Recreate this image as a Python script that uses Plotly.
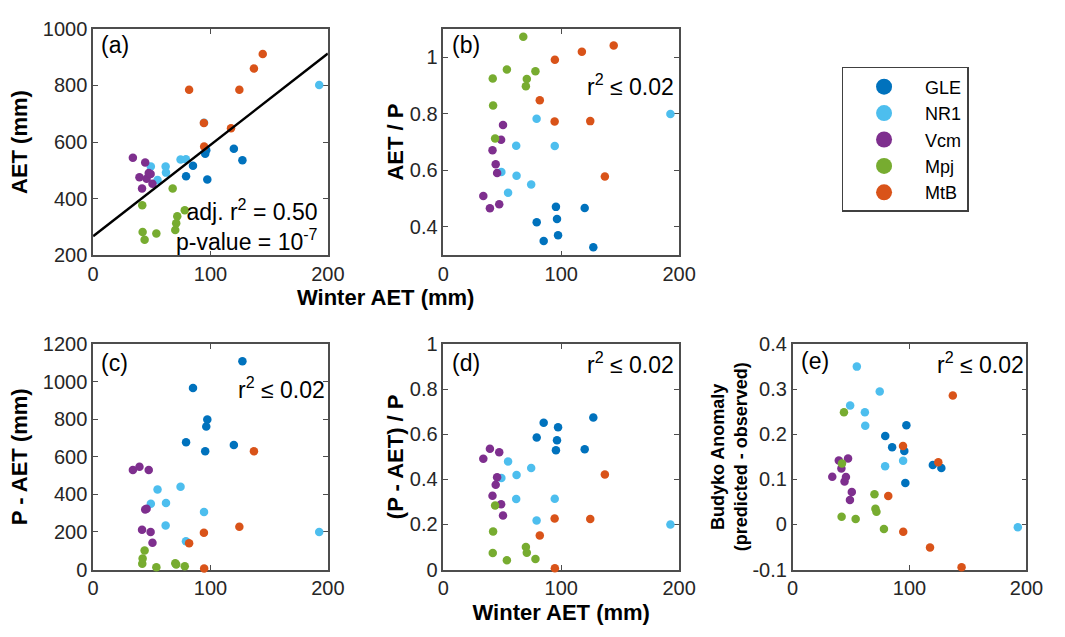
import numpy as np
import plotly.graph_objects as go

# ---------------- data ----------------
sites = ["GLE", "NR1", "Vcm", "Mpj", "MtB"]
site_colors = ["#0072BD", "#4DBEEE", "#7E2F8E", "#77AC30", "#D95319"]

site = (["GLE"] * 7 + ["NR1"] * 8 + ["Vcm"] * 8 + ["Mpj"] * 9 + ["MtB"] * 7)

winter_aet = [79.2, 85.1, 95.5, 96.4, 97.3, 119.9, 127.2,
              49.2, 54.9, 61.8, 62.1, 74.5, 79.1, 94.5, 192.6,
              33.9, 39.5, 41.7, 44.4, 45.6, 47.4, 49.0, 50.6,
              41.9, 42.2, 43.9, 53.9, 67.8, 70.0, 70.8, 71.7, 78.1,
              81.8, 94.4, 94.6, 117.5, 124.6, 137.0, 144.5]

aet = [479, 516, 559, 571, 468, 576, 536,
       514, 466, 514, 492, 538, 539, 668, 802,
       545, 476, 436, 528, 470, 491, 487, 453,
       377, 282, 255, 277, 436, 289, 313, 338, 359,
       785, 667, 584, 649, 785, 860, 911]

# None = point lies outside the plotted range in the reference
aet_over_p = [0.417, 0.350, 0.471, 0.428, 0.371, 0.467, 0.328,
              0.594, 0.521, 0.687, 0.581, 0.550, 0.782, 0.686, 0.799,
              0.509, 0.466, 0.671, 0.622, 0.591, 0.480, 0.708, 0.760,
              0.925, 0.829, 0.713, 0.956, 1.072, 0.897, 0.923, None, 0.950,
              0.848, 0.773, 0.991, 1.019, 0.774, 0.578, 1.041]

p_minus_aet = [677, 966, 629, 761, 798, 663, 1108,
               350, 426, 234, 354, 441, 150, 306, 200,
               530, 547, 212, 320, 323, 530, 200, 142,
               31, 58, 101, 12, None, 33, 27, None, 17,
               140, 196, 5, None, 228, 629, None]

p_minus_aet_frac = [0.586, 0.651, 0.529, 0.573, 0.631, 0.534, 0.674,
                    0.406, 0.479, 0.313, 0.419, 0.450, 0.217, 0.314, 0.200,
                    0.491, 0.536, 0.327, 0.376, 0.409, 0.520, 0.290, 0.240,
                    0.073, 0.169, 0.284, 0.041, None, 0.100, 0.074, None, 0.047,
                    0.151, 0.226, 0.006, None, 0.224, 0.421, None]

budyko_anomaly = [0.196, 0.171, 0.163, 0.092, 0.220, 0.132, 0.125,
                  0.264, 0.350, 0.249, 0.219, 0.295, 0.129, 0.141, -0.006,
                  0.106, 0.142, 0.124, 0.095, 0.105, 0.146, 0.054, 0.072,
                  0.017, 0.135, 0.249, 0.012, None, 0.067, 0.035, 0.028, -0.010,
                  0.063, 0.174, -0.016, -0.051, 0.138, 0.286, -0.095]

x_ticks = [0, 100, 200]
a_ticks = [200, 400, 600, 800, 1000]
b_ticks = [0.4, 0.6, 0.8, 1.0]
b_ticktext = ["0.4", "0.6", "0.8", "1"]
c_ticks = [0, 200, 400, 600, 800, 1000, 1200]
d_ticks = [0, 0.2, 0.4, 0.6, 0.8, 1.0]
d_ticktext = ["0", "0.2", "0.4", "0.6", "0.8", "1"]
e_ticks = [-0.1, 0, 0.1, 0.2, 0.3, 0.4]
e_ticktext = ["-0.1", "0", "0.1", "0.2", "0.3", "0.4"]

# ---------------- figure ----------------
W, H = 1065, 637
FONT = "Liberation Sans, Arial, sans-serif"
fig = go.Figure()

panels = [("x", "y", aet), ("x2", "y2", aet_over_p), ("x3", "y3", p_minus_aet),
          ("x4", "y4", p_minus_aet_frac), ("x5", "y5", budyko_anomaly)]

site_arr = np.array(site)
wx = np.array(winter_aet)
for xa, ya, yvals in panels:
    yv = np.array(yvals, dtype=object)
    for s, col in zip(sites, site_colors):
        m = site_arr == s
        fig.add_trace(go.Scatter(
            x=wx[m], y=list(yv[m]), mode="markers", cliponaxis=False,
            marker=dict(color=col, size=8.5, line=dict(width=0)),
            xaxis=xa, yaxis=ya, showlegend=False, name=s))

# regression line in panel (a)
slope, intercept = np.polyfit(winter_aet, aet, 1)
xl = np.array([0, 200])
fig.add_trace(go.Scatter(x=xl, y=intercept + slope * xl, mode="lines",
                         line=dict(color="black", width=2.5),
                         xaxis="x", yaxis="y", showlegend=False))

# legend entries
for s, col in zip(sites, site_colors):
    fig.add_trace(go.Scatter(x=[None], y=[None], mode="markers", name=s,
                             marker=dict(color=col, size=16), showlegend=True,
                             xaxis="x", yaxis="y"))

def dom_x(a, b):
    return [a / W, b / W]

def dom_y(top, bot):
    return [1 - bot / H, 1 - top / H]

cols = [(89, 329), (447, 688), (804, 1043)]
rows = [(18.5, 253), (345, 578.5)]

axis_common = dict(showline=True, linecolor="#4d4d4d", linewidth=1.5, mirror="ticks",
                   ticks="inside", ticklen=5, tickwidth=1, tickcolor="#4d4d4d",
                   showgrid=False, zeroline=False, layer="below traces",
                   tickfont=dict(family=FONT, size=20, color="#262626"))
title_font = dict(family=FONT, size=22, color="black")

def xax(col, anchor, title=None):
    d = dict(axis_common, domain=dom_x(*cols[col]), anchor=anchor, range=[0, 200],
             tickvals=x_ticks)
    if title:
        d["title"] = dict(text="<b>" + title + "</b>", font=title_font, standoff=6)
    return d

def yax(row, anchor, rng, tv, tt=None, title=None, standoff=6, tsize=22):
    d = dict(axis_common, domain=dom_y(*rows[row]), anchor=anchor, range=rng, tickvals=tv)
    if tt:
        d["ticktext"] = tt
    if title:
        d["title"] = dict(text="<b>" + title + "</b>",
                          font=dict(title_font, size=tsize), standoff=standoff)
    return d

fig.update_layout(
    width=W, height=H, margin=dict(l=0, r=0, t=0, b=0),
    paper_bgcolor="white", plot_bgcolor="white",
    font=dict(family=FONT, color="black"),
    xaxis=xax(0, "y"),
    yaxis=yax(0, "x", [200, 1000], a_ticks, title="AET (mm)", standoff=9),
    xaxis2=xax(1, "y2"),
    yaxis2=yax(0, "x2", [0.3, 1.1], b_ticks, b_ticktext, title="AET / P", standoff=0),
    xaxis3=xax(0, "y3"),
    yaxis3=yax(1, "x3", [0, 1200], c_ticks, title="P - AET (mm)", standoff=9),
    xaxis4=xax(1, "y4", "Winter AET (mm)"),
    yaxis4=yax(1, "x4", [0, 1], d_ticks, d_ticktext, title="(P - AET) / P", standoff=0),
    xaxis5=xax(2, "y5"),
    yaxis5=yax(1, "x5", [-0.1, 0.4], e_ticks, e_ticktext,
               title="Budyko Anomaly<br>(predicted - observed)", standoff=0, tsize=18),
    legend=dict(x=854 / W, y=1 - 58 / H, xanchor="left", yanchor="top",
                bordercolor="#404040", borderwidth=1.5, bgcolor="white",
                font=dict(family=FONT, size=18, color="black"), itemwidth=72),
)

ann_font = dict(family=FONT, size=23, color="black")
lab_font = dict(family=FONT, size=23, color="black")

def ann(text, x, y, xanchor, font, align="left"):
    fig.add_annotation(text=text, x=x / W, y=1 - y / H, xref="paper", yref="paper",
                       xanchor=xanchor, yanchor="middle", showarrow=False, font=font,
                       align=align)

# shared x-axis title of the top row (centred between panels a and b)
ann("<b>Winter AET (mm)</b>", 388, 297, "center", title_font)

ann("(a)", 95, 35, "left", lab_font)
ann("(b)", 454, 35, "left", lab_font)
ann("(c)", 95, 365, "left", lab_font)
ann("(d)", 454, 365, "left", lab_font)
ann("(e)", 810, 363, "left", lab_font)
ann("adj. r<sup>2</sup> = 0.50<br>p-value = 10<sup>-7</sup>", 321, 222, "right", ann_font,
    align="right")
ann("r<sup>2</sup> ≤ 0.02", 685, 77, "right", ann_font)
ann("r<sup>2</sup> ≤ 0.02", 328, 390, "right", ann_font)
ann("r<sup>2</sup> ≤ 0.02", 685, 365, "right", ann_font)
ann("r<sup>2</sup> ≤ 0.02", 1043, 365, "right", ann_font)

fig.write_html("out.html")
